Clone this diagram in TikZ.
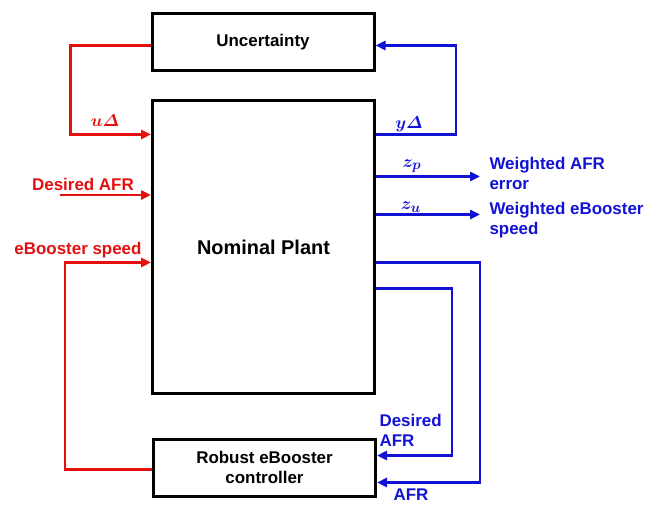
\documentclass[tikz,border=0pt]{standalone}
\usepackage{fontspec}
\setmainfont{Liberation Sans}
\usetikzlibrary{arrows.meta,calc}
\definecolor{sigred}{RGB}{228,16,16}
\definecolor{sigblue}{RGB}{18,18,212}
\begin{document}
\begin{tikzpicture}[x=1bp,y=-1bp,
  blk/.style={draw,line width=3bp,minimum width=222bp,align=center,font=\fontsize{17}{20}\selectfont\bfseries},
  sig/.style={line width=2.6bp,-{Triangle[length=10bp,width=9bp]}},
  rarr/.style={sig,sigred},
  barr/.style={sig,sigblue},
  lab/.style={font=\fontsize{17}{20}\selectfont\bfseries\boldmath},
  rlab/.style={lab,text=sigred},
  blab/.style={lab,text=sigblue}]
 \useasboundingbox (0,0) rectangle (653,505);
 \node[blk,minimum height=57bp] (unc) at (263,42.5) {Uncertainty};
 \node[blk,minimum height=292bp,font=\fontsize{20}{24}\selectfont\bfseries] (plant) at (263.5,247) {Nominal Plant};
 \node[blk,minimum height=57bp] (ctrl) at (264.5,467.5) {Robust eBooster\\controller};
 \draw[rarr] ($(unc.north west)+(0,33)$) -- ++(-80,0) |- ($(plant.north west)+(0,35)$);
 \node[rlab] (ulab) at (105,121) {$u\mathnormal{\Delta}$};
 \coordinate (dafr) at (60,195);
 \draw[rarr] (dafr) -- (dafr -| plant.west);
 \node[rlab] (dafrlab) at (83,184) {Desired AFR};
 \draw[rarr] ($(ctrl.north west)+(0,32)$) -- ++(-87,0) |- ($(plant.north west)+(0,163)$);
 \node[rlab] (speedlab) at (78,250) {eBooster speed};
 \draw[barr] ($(plant.north east)+(0,35)$) -- ++(80,0) |- ($(unc.north east)+(0,33)$);
 \node[blab] (ylab) at (409,124) {$y\mathnormal{\Delta}$};
 \node[blab,anchor=west,align=left] (werr) at (486,173) {Weighted AFR\\error};
 \draw[barr] ($(plant.north east)+(0,77)$) -- ++(104,0);
 \node[blab,font=\fontsize{19}{20}\selectfont\boldmath] (zplab) at (412,166) {$z_p$};
 \node[blab,anchor=west,align=left] (wspd) at (486,220) {Weighted eBooster\\speed};
 \draw[barr] ($(plant.north east)+(0,115)$) -- ++(104,0);
 \node[blab,font=\fontsize{19}{20}\selectfont\boldmath] (zulab) at (411,207) {$z_u$};
 \draw[barr] ($(plant.north east)+(0,163)$) -- ++(104,0) |- ($(ctrl.north east)+(0,45)$);
 \draw[barr] ($(plant.north east)+(0,189)$) -- ++(76,0) |- ($(ctrl.north east)+(0,18)$);
 \node[blab,anchor=west,align=left] (dafrfb) at (376,430) {Desired\\AFR};
 \node[blab] (afrfb) at (411,495) {AFR};
\end{tikzpicture}
\end{document}
